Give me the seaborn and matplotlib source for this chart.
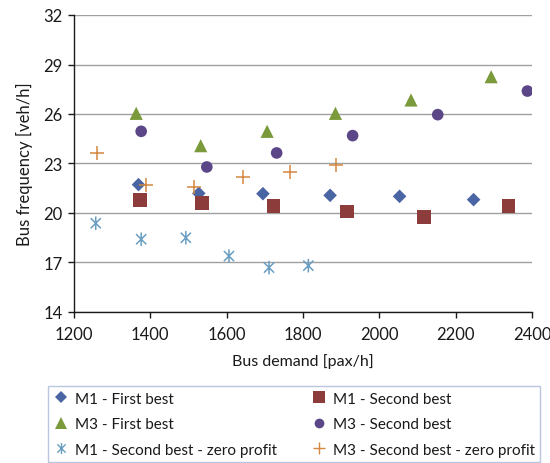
import matplotlib
matplotlib.use("Agg")
import matplotlib.pyplot as plt
import seaborn as sns
import numpy as np
from matplotlib.path import Path
from matplotlib.lines import Line2D

# ---- data ----
m1_fb_x = [1369, 1527, 1695, 1871, 2053, 2247]
m1_fb_y = [21.72, 21.19, 21.17, 21.07, 21.01, 20.81]
m1_sb_x = [1373, 1535, 1723, 1915, 2117, 2339]
m1_sb_y = [20.79, 20.61, 20.42, 20.08, 19.76, 20.42]
m3_fb_x = [1363, 1532, 1706, 1885, 2083, 2293]
m3_fb_y = [26.04, 24.08, 24.95, 26.04, 26.85, 28.26]
m3_sb_x = [1376, 1548, 1731, 1930, 2153, 2388]
m3_sb_y = [24.95, 22.79, 23.64, 24.69, 25.96, 27.39]
m1_zp_x = [1257, 1376, 1493, 1606, 1711, 1814]
m1_zp_y = [19.38, 18.41, 18.50, 17.39, 16.69, 16.81]
m3_zp_x = [1260, 1388, 1515, 1642, 1767, 1886]
m3_zp_y = [23.65, 21.70, 21.56, 22.18, 22.48, 22.93]

labels = ["M1 - First best", "M1 - Second best", "M3 - First best",
          "M3 - Second best", "M1 - Second best - zero profit",
          "M3 - Second best - zero profit"]
x_ticks = [1200, 1400, 1600, 1800, 2000, 2200, 2400]
y_ticks = [14, 17, 20, 23, 26, 29, 32]

sns.set_theme(style="white")
plt.rcParams['font.family'] = ['Lato', 'DejaVu Sans']

fig = plt.figure(figsize=(5.5, 4.64), dpi=100)
ax = fig.add_axes([74/550, 1-313/464, (532-74)/550, (313-16)/464])

ast = Path([(0, -1), (0, 1), (-0.75, -0.75), (0.75, 0.75), (-0.75, 0.75), (0.75, -0.75)],
           [Path.MOVETO, Path.LINETO, Path.MOVETO, Path.LINETO, Path.MOVETO, Path.LINETO])

series = [
    (m1_fb_x, m1_fb_y, "D", "#4A65A3", 48, "filled"),
    (m1_sb_x, m1_sb_y, "s", "#8C3C3A", 95, "filled"),
    (m3_fb_x, m3_fb_y, "^", "#7A9A3C", 90, "filled"),
    (m3_sb_x, m3_sb_y, "o", "#5B4687", 70, "filled"),
    (m1_zp_x, m1_zp_y, ast, "#6A9DC2", 95, "path"),
    (m3_zp_x, m3_zp_y, "+", "#D4873E", 110, "line"),
]

handles = []
for i, ((xs, ys, mk, col, s, kind), lab) in enumerate(zip(series, labels)):
    if kind == "filled":
        sns.scatterplot(x=xs, y=ys, marker=mk, color=col, s=s, edgecolor="none",
                        ax=ax, zorder=3)
    elif kind == "path":
        sns.scatterplot(x=xs, y=ys, marker=mk, color=col, s=s, linewidth=1.1,
                        edgecolor=col, facecolor="none", ax=ax, zorder=3)
    else:
        sns.scatterplot(x=xs, y=ys, marker=mk, color=col, s=s, linewidth=1.1,
                        ax=ax, zorder=3)
    msize = [6, 8, 8, 7, 8, 9][i]
    handles.append(Line2D([], [], linestyle="none", marker=mk, color=col,
                          markeredgecolor=col, markerfacecolor=col if kind == "filled" else "none",
                          markersize=msize,
                          markeredgewidth=0 if kind == "filled" else 1.0,
                          label=lab))

ax.set_xlim(1200, 2400)
ax.set_ylim(14, 32)
ax.set_xticks(x_ticks)
ax.set_yticks(y_ticks)
ax.grid(axis="y", color="#A0A0A0", linewidth=1.0)
ax.set_axisbelow(True)
for sp in ["top", "right"]:
    ax.spines[sp].set_visible(False)
for sp in ["left", "bottom"]:
    ax.spines[sp].set_color("#1a1a1a")
    ax.spines[sp].set_linewidth(1.0)
ax.tick_params(axis="both", which="major", direction="out", length=4, width=1,
               color="#1a1a1a", labelsize=12, labelcolor="#1a1a1a",
               bottom=True, left=True)
ax.tick_params(axis="x", pad=6)
ax.tick_params(axis="y", pad=4)
ax.set_xlabel("Bus demand [pax/h]", fontsize=11.5, color="#1a1a1a", labelpad=8)
ax.set_ylabel("Bus frequency [veh/h]", fontsize=12, color="#1a1a1a", labelpad=8)

order = [0, 2, 4, 1, 3, 5]
leg = fig.legend([handles[i] for i in order], [labels[i] for i in order],
                 ncol=2, loc="lower left", bbox_to_anchor=(48/550, 1/464, (540-48)/550, 73/464),
                 mode="expand", frameon=True, fancybox=False, fontsize=11,
                 handlelength=1.0, handletextpad=0.4, columnspacing=1.0,
                 labelspacing=0.75, borderpad=0.35, borderaxespad=0.0)
leg.get_frame().set_edgecolor("#A8B8D8")
leg.get_frame().set_linewidth(1.0)
for t in leg.get_texts():
    t.set_color("#1a1a1a")

fig.savefig("out.png", dpi=100)
